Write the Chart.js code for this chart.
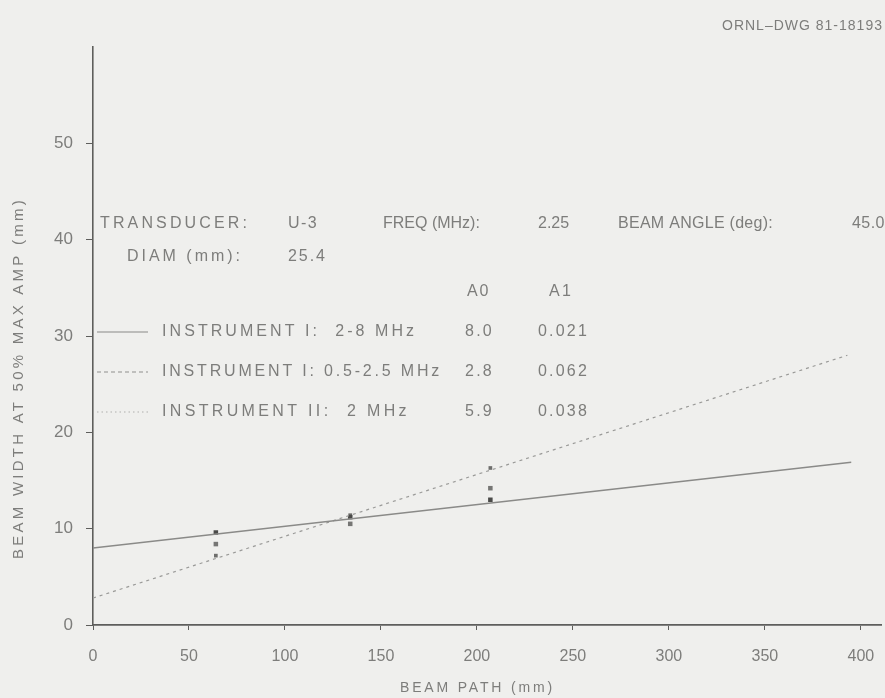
<!DOCTYPE html>
<html>
<head>
<meta charset="utf-8">
<script src="https://cdn.jsdelivr.net/npm/chart.js@4.4.1/dist/chart.umd.min.js"></script>
<style>
  body { margin: 0; background: #efefed; }
  #wrap { width: 885px; height: 698px; position: relative; }
</style>
</head>
<body>
<div id="wrap"><canvas id="beamChart"></canvas></div>
<script>
// ---- data ----
const beamPath = [64, 134, 207];                 // measurement positions (mm)
const inst1HighPts = [9.6, 11.2, 13.0];          // instrument I, 2-8 MHz
const inst1LowPts = [7.2, 11.4, 16.3];           // instrument I, 0.5-2.5 MHz
const inst2Pts = [8.4, 10.5, 14.2];              // instrument II, 2 MHz

const fitHighX = [0, 395];
const fitHighY = [8.0, 16.9];
const fitLowX = [0, 393];
const fitLowY = [2.8, 28.0];

const xTicks = [0, 50, 100, 150, 200, 250, 300, 350, 400];
const yTicks = [0, 10, 20, 30, 40, 50];

const legendNames = ['INSTRUMENT I:  2-8 MHz', 'INSTRUMENT I: 0.5-2.5 MHz', 'INSTRUMENT II:  2 MHz'];
const legendA0 = ['8.0', '2.8', '5.9'];
const legendA1 = ['0.021', '0.062', '0.038'];

const textGray = '#7d7d7b';
const axisGray = '#5e5e5c';
const FONT = '"Liberation Sans", Arial, sans-serif';

const pts = (xs, ys) => xs.map((x, i) => ({ x: x, y: ys[i] }));

// draw a text so that it spans from x0 to x1 (letter spacing fitted)
function fitText(ctx, s, x0, x1, y, size) {
  ctx.font = size + 'px ' + FONT;
  ctx.letterSpacing = '0px';
  const w = ctx.measureText(s).width;
  let sp = (x1 - x0 - w) / s.length;
  if (sp < 0) sp = 0;
  ctx.letterSpacing = sp.toFixed(2) + 'px';
  ctx.fillText(s, x0, y);
  ctx.letterSpacing = '0px';
}

const notes = {
  id: 'notes',
  afterDraw(chart) {
    const ctx = chart.ctx;
    ctx.save();
    ctx.fillStyle = textGray;
    ctx.textBaseline = 'middle';
    ctx.textAlign = 'left';

    fitText(ctx, 'ORNL\u2013DWG 81-18193', 722, 883, 26, 14);

    // header block
    fitText(ctx, 'TRANSDUCER:', 100, 250, 224, 16);
    fitText(ctx, 'U-3', 288, 318, 224, 16);
    fitText(ctx, 'FREQ (MHz):', 383, 477, 224, 16);
    fitText(ctx, '2.25', 538, 567, 224, 16);
    fitText(ctx, 'BEAM ANGLE (deg):', 618, 773, 224, 16);
    fitText(ctx, '45.0', 852, 885, 224, 16);
    fitText(ctx, 'DIAM (mm):', 127, 243, 257, 16);
    fitText(ctx, '25.4', 288, 327, 257, 16);
    fitText(ctx, 'A0', 467, 490, 292, 16);
    fitText(ctx, 'A1', 549, 573, 292, 16);

    // legend rows
    const rowY = [332, 372, 412];
    const dashes = [[], [4, 3], [1.5, 3]];
    const strokes = ['#8a8a88', '#8f8f8d', '#b0b0ae'];
    const nameEnd = [417, 442, 410];
    rowY.forEach((y, i) => {
      ctx.beginPath();
      ctx.setLineDash(dashes[i]);
      ctx.strokeStyle = strokes[i];
      ctx.lineWidth = 1.2;
      ctx.moveTo(97, y);
      ctx.lineTo(148, y);
      ctx.stroke();
      ctx.setLineDash([]);
      fitText(ctx, legendNames[i], 162, nameEnd[i], y, 16);
      fitText(ctx, legendA0[i], 465, 494, y, 16);
      fitText(ctx, legendA1[i], 538, 589, y, 16);
    });

    // axis titles
    fitText(ctx, 'BEAM PATH (mm)', 400, 555, 688, 14);
    ctx.translate(19, 378);
    ctx.rotate(-Math.PI / 2);
    fitText(ctx, 'BEAM WIDTH AT 50% MAX AMP (mm)', -181, 181, 0, 15);
    ctx.restore();
  }
};

const ctx1 = document.getElementById('beamChart').getContext('2d');

new Chart(ctx1, {
  type: 'scatter',
  data: {
    datasets: [
      {
        label: 'fit I 2-8',
        data: pts(fitHighX, fitHighY),
        showLine: true,
        borderColor: '#8a8a88',
        borderWidth: 1.4,
        pointRadius: 0
      },
      {
        label: 'fit I 0.5-2.5',
        data: pts(fitLowX, fitLowY),
        showLine: true,
        borderColor: '#9a9a98',
        borderWidth: 1.2,
        borderDash: [3, 4],
        pointRadius: 0
      },
      {
        label: 'I 2-8 MHz',
        data: pts(beamPath, inst1HighPts),
        pointStyle: 'rect',
        pointRadius: 3.2,
        backgroundColor: '#4a4a48',
        borderColor: '#4a4a48',
        borderWidth: 0
      },
      {
        label: 'I 0.5-2.5 MHz',
        data: pts(beamPath, inst1LowPts),
        pointStyle: 'rect',
        pointRadius: 2.6,
        backgroundColor: '#6e6e6c',
        borderColor: '#6e6e6c',
        borderWidth: 0
      },
      {
        label: 'II 2 MHz',
        data: pts(beamPath, inst2Pts),
        pointStyle: 'rect',
        pointRadius: 3.2,
        backgroundColor: '#767674',
        borderColor: '#767674',
        borderWidth: 0
      }
    ]
  },
  options: {
    responsive: true,
    maintainAspectRatio: false,
    animation: false,
    layout: { padding: { top: 47, left: 0, right: 0, bottom: 0 } },
    plugins: {
      legend: { display: false },
      tooltip: { enabled: false }
    },
    scales: {
      x: {
        type: 'linear',
        min: 0,
        max: 410.5,
        afterBuildTicks: s => { s.ticks = xTicks.map(v => ({ value: v })); },
        afterFit: s => { s.height = 73; s.paddingLeft = 0; s.paddingRight = 0; },
        border: { color: axisGray, width: 1.8 },
        grid: { drawOnChartArea: false, tickLength: 5, color: axisGray, tickWidth: 1 },
        ticks: {
          color: textGray,
          font: { family: FONT, size: 16 },
          padding: 17,
          maxRotation: 0
        }
      },
      y: {
        type: 'linear',
        min: 0,
        max: 60,
        afterBuildTicks: s => { s.ticks = yTicks.map(v => ({ value: v })); },
        afterFit: s => { s.width = 93; },
        border: { color: axisGray, width: 1.6 },
        grid: { drawOnChartArea: false, tickLength: 7, color: axisGray, tickWidth: 1 },
        ticks: {
          color: textGray,
          font: { family: FONT, size: 17 },
          padding: 13
        }
      }
    }
  },
  plugins: [notes]
});
</script>
</body>
</html>
